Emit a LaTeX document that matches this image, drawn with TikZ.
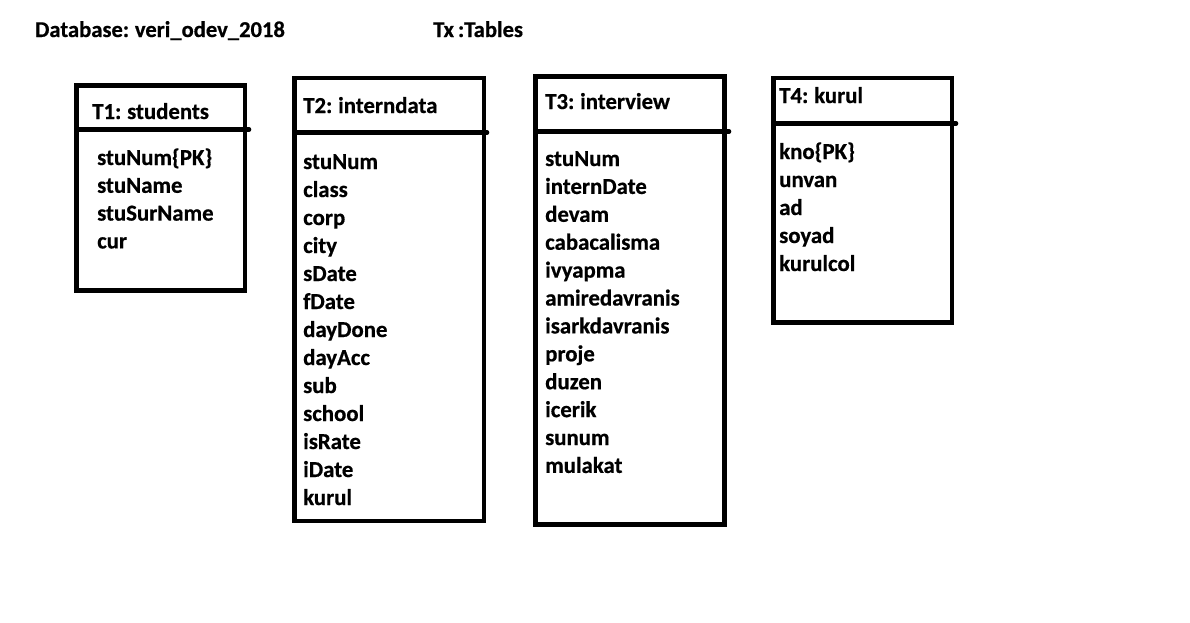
\documentclass[tikz,border=0pt]{standalone}
\usepackage{fontspec}
\setmainfont{Carlito}[WordSpace=0.8,BoldFeatures={FakeBold=0.6}]
\begin{document}
\begin{tikzpicture}[x=1pt,y=-1pt,
  tbl/.style={draw=black,line width=4.6pt,inner sep=0pt,fill=none},
  divider/.style={line width=4.6pt,line cap=round},
  txt/.style={anchor=base west,inner sep=0pt,font=\fontsize{22.8}{26}\selectfont\bfseries},
  hdr/.style={anchor=base west,inner sep=0pt,font=\fontsize{22.6}{26}\selectfont\bfseries}]
\useasboundingbox (0,0) rectangle (1190,622);
\fill[white] (0,0) rectangle (1190,622);
% headers
\node[hdr] (db) at (35,37) {Database: veri\_odev\_2018};
\node[hdr] (tx) at (433,37) {Tx :Tables};
% T1
\draw[tbl] (76.5,85.5) rectangle (245,290.5);
\coordinate (d1a) at (76.5,129.5); \coordinate (d1b) at (249,129.5);
\draw[divider] (d1a) -- (d1b);
\node[txt] (t1) at (92,119) {T1: students};
\foreach \t [count=\i from 0] in {stuNum\{PK\},stuName,stuSurName,cur}
  \node[txt] (t1r\i) at (97,165+27.8*\i) {\t};
% T2
\draw[tbl] (294.5,78) rectangle (484,521);
\coordinate (d2a) at (294.5,132.5); \coordinate (d2b) at (487,132.5);
\draw[divider] (d2a) -- (d2b);
\node[txt] (t2) at (303,113) {T2: interndata};
\foreach \t [count=\i from 0] in {stuNum,class,corp,city,sDate,fDate,dayDone,dayAcc,sub,school,isRate,iDate,kurul}
  \node[txt] (t2r\i) at (303,169+28*\i) {\t};
% T3
\draw[tbl] (535.5,76.5) rectangle (724.5,524.5);
\coordinate (d3a) at (535.5,131.5); \coordinate (d3b) at (729,131.5);
\draw[divider] (d3a) -- (d3b);
\node[txt] (t3) at (545,109) {T3: interview};
\foreach \t [count=\i from 0] in {stuNum,internDate,devam,cabacalisma,ivyapma,amiredavranis,isarkdavranis,proje,duzen,icerik,sunum,mulakat}
  \node[txt] (t3r\i) at (545,166+27.9*\i) {\t};
% T4
\draw[tbl] (773.5,78) rectangle (952,322.5);
\coordinate (d4a) at (773.5,123.5); \coordinate (d4b) at (956,123.5);
\draw[divider] (d4a) -- (d4b);
\node[txt] (t4) at (779,103) {T4: kurul};
\foreach \t [count=\i from 0] in {kno\{PK\},unvan,ad,soyad,kurulcol}
  \node[txt] (t4r\i) at (779,159+28*\i) {\t};
\end{tikzpicture}
\end{document}
